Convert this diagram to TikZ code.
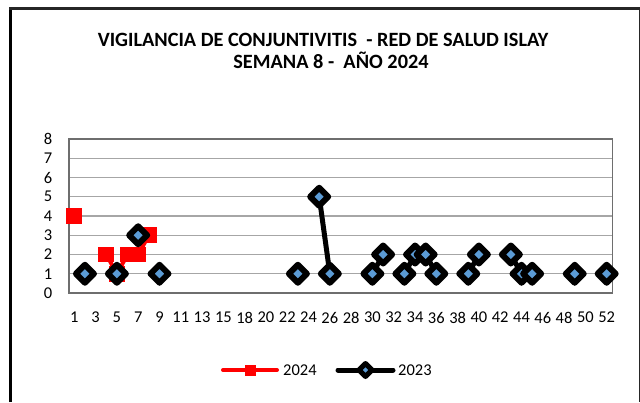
\documentclass[tikz,border=0pt]{standalone}
\usepackage{fontspec}
\setmainfont{Carlito}
\usetikzlibrary{shapes.geometric}
\definecolor{markblue}{HTML}{5B9BD5}
\definecolor{gridgray}{HTML}{A6A6A6}
\definecolor{axisgray}{HTML}{6E6E6E}

\begin{document}
\begin{tikzpicture}[x=1pt, y=-1pt,
		grid line/.style={draw=gridgray, line width=1.4pt},
		plot frame/.style={draw=axisgray, line width=1.4pt},
		ticklabel/.style={font=\fontsize{16.5}{18}\selectfont, inner sep=0pt},
		line2024/.style={draw=red, line width=4pt, line cap=round, line join=round},
		line2023/.style={draw=black, line width=5pt, line cap=round, line join=round},
		sqmark/.style={rectangle, fill=red, minimum size=15.7pt, inner sep=0pt},
		dmmark/.style={diamond, draw=black, fill=markblue, line width=6pt, line join=round, minimum size=18pt, inner sep=0pt, outer sep=0pt}]
	\useasboundingbox (0,0) rectangle (640,402);

	% outer frame
	\draw[black, line width=3pt] (10.5,402) -- (10.5,8.7);
	\draw[black!85, line width=2.6pt] (9,8.7) -- (639.5,8.7);
	\draw[black!85, line width=1.5pt] (639.5,8.7) -- (639.5,402);

	% title
	\node[font=\fontsize{20.3}{22}\bfseries] (title1) at (323,40) {VIGILANCIA DE CONJUNTIVITIS \ - RED DE SALUD ISLAY};
	\node[font=\fontsize{20.3}{22}\bfseries] (title2) at (331,60) {SEMANA 8 - \ AÑO 2024};

	% grid and axes
	\foreach \v in {1,...,7}
		\draw[grid line] (69,{293-\v*19.25}) -- (612.3,{293-\v*19.25});
	\draw[plot frame] (69,139) rectangle (612.3,293);
	\foreach \v in {0,...,8}
		\node[ticklabel, anchor=east] (y\v) at (52.5,{293-\v*19.25}) {\v};
	\foreach \k [count=\n from 0] in {1,3,5,7,9,11,13,15,18,20,22,24,26,28,30,32,34,36,38,40,42,44,46,48,50,52}
		\node[ticklabel] (x\k) at ({69+(2*\n+0.5)*10.647},317.5) {\k};

	% 2024 series
	\foreach \i/\v in {0/4,3/2,4/1,5/2,6/2,7/3}
		\coordinate (r\i) at ({69+(\i+0.5)*10.647},{293-\v*19.25});
	\draw[line2024] (r3) -- (r4) -- (r5) -- (r6) -- (r7);
	\foreach \i in {0,3,4,5,6,7}
		\node[sqmark] (sq\i) at (r\i) {};

	% 2023 series
	\foreach \i/\v in {1/1,4/1,6/3,8/1,21/1,23/5,24/1,28/1,29/2,31/1,32/2,33/2,34/1,37/1,38/2,41/2,42/1,43/1,47/1,50/1}
		\coordinate (b\i) at ({69+(\i+0.5)*10.647},{293-\v*19.25});
	\draw[line2023] (b23) -- (b24);
	\draw[line2023] (b28) -- (b29);
	\draw[line2023] (b31) -- (b32) -- (b33) -- (b34);
	\draw[line2023] (b37) -- (b38);
	\draw[line2023] (b41) -- (b42) -- (b43);
	\foreach \i in {1,4,6,8,21,23,24,28,29,31,32,33,34,37,38,41,42,43,47,50}
		\node[dmmark] (dm\i) at (b\i) {};

	% legend
	\coordinate (la1) at (223,370);
	\coordinate (la2) at (277,370);
	\draw[line2024] (la1) -- (la2);
	\node[sqmark, minimum size=11pt] (lsq) at (250,370) {};
	\node[ticklabel, anchor=west] (l2024) at (283,370) {2024};
	\coordinate (lb1) at (338,370);
	\coordinate (lb2) at (393,370);
	\draw[line2023] (lb1) -- (lb2);
	\node[dmmark, line width=5pt, minimum size=13pt] (ldm) at (365.5,370) {};
	\node[ticklabel, anchor=west] (l2023) at (398,370) {2023};
\end{tikzpicture}
\end{document}
